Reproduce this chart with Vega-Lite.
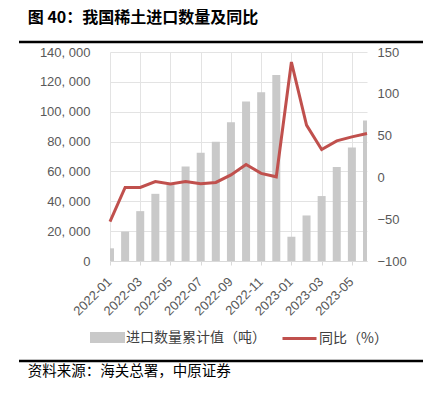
{
  "$schema": "https://vega.github.io/schema/vega-lite/v6.json",
  "padding": {"left": 17, "top": 9, "right": 5, "bottom": 5},
  "background": "#ffffff",
  "title": {"text": "图 40：我国稀土进口数量及同比", "anchor": "start", "dx": 10, "font": "Noto Sans CJK SC", "fontSize": 16, "fontWeight": "bold", "color": "#000000", "offset": 15},
  "datasets": {
    "main": [
      {"month": "2022-01", "qty": 8500, "yoy": -53},
      {"month": "2022-02", "qty": 19700, "yoy": -12},
      {"month": "2022-03", "qty": 33400, "yoy": -12},
      {"month": "2022-04", "qty": 45000, "yoy": -5},
      {"month": "2022-05", "qty": 51300, "yoy": -8},
      {"month": "2022-06", "qty": 63300, "yoy": -5},
      {"month": "2022-07", "qty": 72500, "yoy": -7.5},
      {"month": "2022-08", "qty": 79800, "yoy": -6},
      {"month": "2022-09", "qty": 93000, "yoy": 3},
      {"month": "2022-10", "qty": 106800, "yoy": 15.5},
      {"month": "2022-11", "qty": 113000, "yoy": 4.8},
      {"month": "2022-12", "qty": 124600, "yoy": 0.7},
      {"month": "2023-01", "qty": 16250, "yoy": 138},
      {"month": "2023-02", "qty": 30500, "yoy": 62.5},
      {"month": "2023-03", "qty": 43500, "yoy": 33.4},
      {"month": "2023-04", "qty": 62900, "yoy": 43.7},
      {"month": "2023-05", "qty": 76000, "yoy": 48.5},
      {"month": "2023-06", "qty": 94100, "yoy": 52.5}
    ]
  },
  "spacing": 2,
  "align": "none",
  "vconcat": [
    {
      "width": 404, "height": 1,
      "data": {"values": [{"k": 1}]},
      "mark": {"type": "rule", "color": "#000000", "strokeWidth": 2.5},
      "encoding": {"y": {"datum": 0, "type": "quantitative", "axis": null, "scale": {"domain": [0, 1]}}}
    },
    {
      "spacing": 0,
      "align": "none",
      "hconcat": [
        {
          "width": 20, "height": 305,
          "data": {"values": [{"k": 1}]},
          "mark": {"type": "point", "opacity": 0},
          "encoding": {}
        },
        {
          "width": 257, "height": 209,
          "data": {"name": "main"},
          "encoding": {
            "x": {
              "field": "month", "type": "ordinal",
              "scale": {"type": "point", "padding": 0},
              "axis": {
                "values": ["2022-01", "2022-03", "2022-05", "2022-07", "2022-09", "2022-11", "2023-01", "2023-03", "2023-05"],
                "title": null, "labelAngle": -45, "grid": true, "gridColor": "#e3e3e3",
                "domainColor": "#d9d9d9", "tickColor": "#d9d9d9", "tickSize": 4,
                "labelColor": "#595959", "labelFont": "Liberation Sans", "labelFontSize": 13,
                "labelPadding": 10, "labelOffset": -5
              }
            }
          },
          "layer": [
            {
              "mark": {"type": "bar", "size": 8, "clip": true},
              "encoding": {
                "y": {
                  "field": "qty", "type": "quantitative",
                  "scale": {"domain": [0, 140000]},
                  "axis": {
                    "values": [0, 20000, 40000, 60000, 80000, 100000, 120000, 140000],
                    "labelExpr": "replace(format(datum.value, ','), ',', ', ')",
                    "title": null, "ticks": false, "domain": false, "grid": true, "gridColor": "#e3e3e3",
                    "labelPadding": 20, "labelColor": "#595959", "labelFont": "Liberation Sans", "labelFontSize": 13
                  }
                },
                "fill": {
                  "datum": "进口数量累计值（吨）", "type": "nominal",
                  "scale": {"range": ["#c9c9c9"]},
                  "legend": {
                    "title": null, "symbolType": "M-1,-0.32H1V0.32H-1Z", "symbolSize": 1225, "symbolStrokeWidth": 0,
                    "labelFont": "Noto Sans CJK SC", "labelFontSize": 14, "labelColor": "#404040", "labelOffset": 1,
                    "padding": 2, "offset": 0
                  }
                }
              }
            },
            {
              "mark": {"type": "line", "strokeWidth": 3},
              "encoding": {
                "y": {
                  "field": "yoy", "type": "quantitative",
                  "scale": {"domain": [-100, 150]},
                  "axis": {
                    "orient": "right", "values": [-100, -50, 0, 50, 100, 150],
                    "title": null, "ticks": false, "domain": false, "grid": false,
                    "labelPadding": 10, "labelColor": "#595959", "labelFont": "Liberation Sans", "labelFontSize": 13
                  }
                },
                "stroke": {
                  "datum": "同比（%）", "type": "nominal",
                  "scale": {"range": ["#c0504d"]},
                  "legend": {
                    "title": null, "symbolType": "stroke", "symbolSize": 1156, "symbolStrokeWidth": 3,
                    "labelFont": "Noto Sans CJK SC", "labelFontSize": 14, "labelColor": "#404040", "labelOffset": 1,
                    "padding": 2, "offset": 0
                  }
                }
              }
            }
          ],
          "resolve": {"scale": {"y": "independent"}}
        }
      ],
      "resolve": {"scale": {"fill": "independent", "stroke": "independent"}, "legend": {"fill": "independent", "stroke": "independent"}}
    },
    {
      "width": 404, "height": 1,
      "data": {"values": [{"k": 1}]},
      "mark": {"type": "rule", "color": "#000000", "strokeWidth": 2.5},
      "encoding": {"y": {"datum": 1, "type": "quantitative", "axis": null, "scale": {"domain": [0, 1]}}},
      "title": {"text": "资料来源：海关总署，中原证券", "orient": "bottom", "anchor": "start", "dx": 10, "font": "Noto Sans CJK SC", "fontSize": 14.5, "fontWeight": "normal", "color": "#000000", "offset": 3}
    }
  ],
  "resolve": {"scale": {"fill": "independent", "stroke": "independent"}, "legend": {"fill": "independent", "stroke": "independent"}},
  "config": {
    "view": {"stroke": null},
    "legend": {"orient": "bottom", "layout": {"bottom": {"anchor": "middle", "direction": "horizontal", "margin": 11}}}
  }
}
